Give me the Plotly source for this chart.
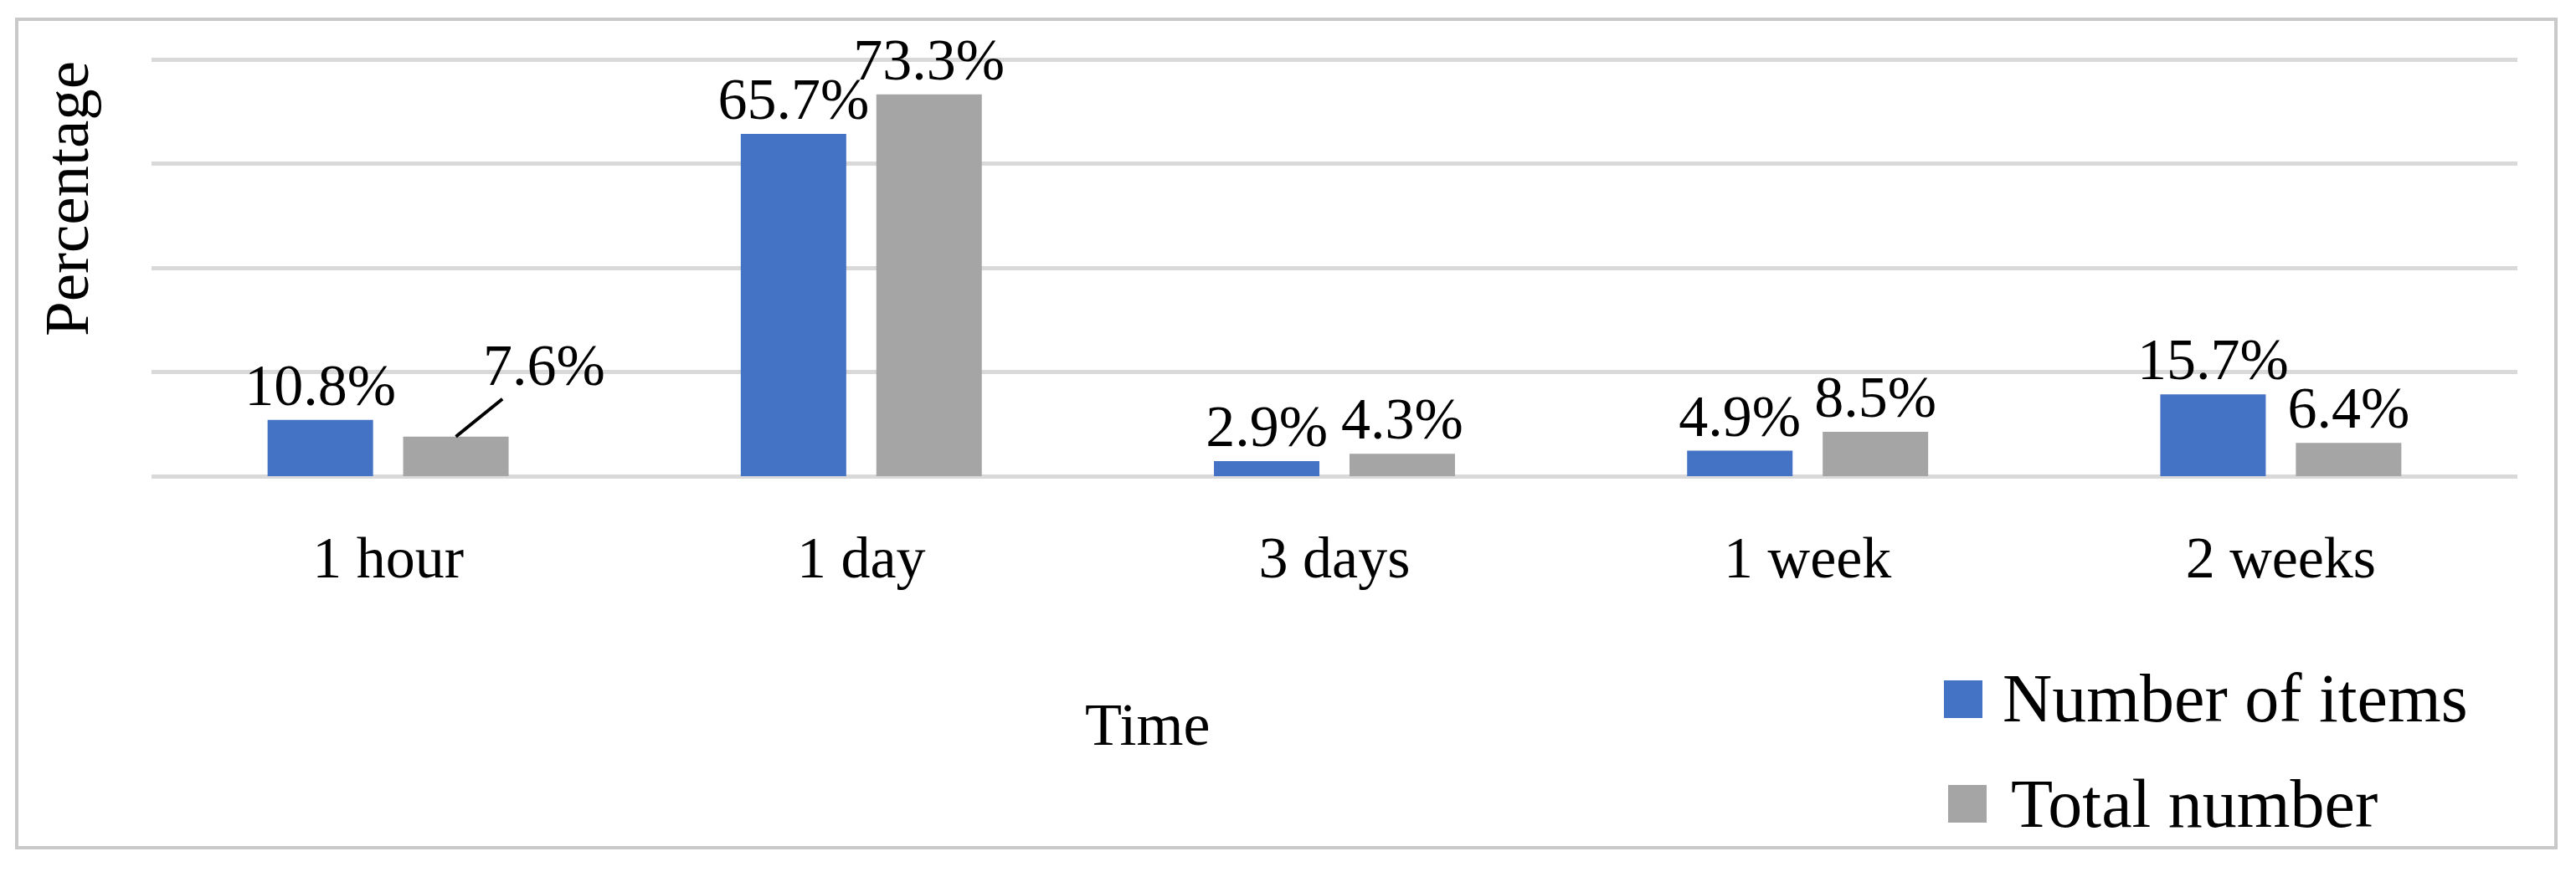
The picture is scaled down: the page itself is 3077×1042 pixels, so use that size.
import plotly.graph_objects as go

# ---- data ----
categories = ["1 hour", "1 day", "3 days", "1 week", "2 weeks"]
series_names = ["Number of items", "Total number"]
number_of_items = [10.8, 65.7, 2.9, 4.9, 15.7]
total_number = [7.6, 73.3, 4.3, 8.5, 6.4]
x_title = "Time"
y_title = "Percentage"

# ---- style ----
BLUE = "#4472C4"
GRAY = "#A5A5A5"
GRID = "#D9D9D9"
BORDER = "#C9C9C9"
FONT = "Liberation Serif, Times New Roman, serif"

W, H = 3077, 1042
L, R, T, B = 181, 70, 58, 473
PW, PH = W - L - R, H - T - B
YMAX = 82.1
BARGAP, BARGROUPGAP = 0.427, 0.222


def px(xp):
    return (xp - L) / PW


def py(yp):
    return (H - B - yp) / PH


def lbl(v):
    return f"{v:.1f}%"


blue_text = [lbl(v) for v in number_of_items]
gray_text = [lbl(v) for v in total_number]
moved = 0  # label of the first gray bar is drawn with a leader line
gray_text[moved] = ""

fig = go.Figure()
fig.add_trace(go.Bar(
    x=categories, y=number_of_items, name=series_names[0],
    marker=dict(color=BLUE, line=dict(width=0)),
    text=blue_text, textposition="outside", constraintext="none",
    textfont=dict(family=FONT, size=70, color="black"),
    cliponaxis=False, showlegend=False,
))
fig.add_trace(go.Bar(
    x=categories, y=total_number, name=series_names[1],
    marker=dict(color=GRAY, line=dict(width=0)),
    text=gray_text, textposition="outside", constraintext="none",
    textfont=dict(family=FONT, size=70, color="black"),
    cliponaxis=False, showlegend=False,
))

# position of the second bar within its category (category units)
slot = (1 - BARGAP) / 2
gray_offset = slot / 2

annotations = [
    dict(x=moved + gray_offset, y=total_number[moved], xref="x", yref="y",
         text=lbl(total_number[moved]), showarrow=True, arrowhead=0,
         arrowwidth=4, arrowcolor="black", standoff=0, startstandoff=0,
         ax=105, ay=-85, font=dict(family=FONT, size=70, color="black")),
    dict(x=px(1370), y=py(866), xref="paper", yref="paper", text=x_title,
         showarrow=False, xanchor="center", yanchor="middle",
         font=dict(family=FONT, size=72, color="black")),
    dict(x=px(79), y=py(238), xref="paper", yref="paper", text=y_title,
         textangle=-90, showarrow=False, xanchor="center", yanchor="middle",
         font=dict(family=FONT, size=75, color="black")),
    dict(x=px(2390), y=py(835), xref="paper", yref="paper", text=series_names[0],
         showarrow=False, xanchor="left", yanchor="middle",
         font=dict(family=FONT, size=82, color="black")),
    dict(x=px(2400), y=py(960), xref="paper", yref="paper", text=series_names[1],
         showarrow=False, xanchor="left", yanchor="middle",
         font=dict(family=FONT, size=82, color="black")),
]

shapes = [
    dict(type="rect", xref="paper", yref="paper",
         x0=px(20), x1=px(3053), y0=py(1013), y1=py(23),
         line=dict(color=BORDER, width=4), fillcolor="rgba(0,0,0,0)", layer="below"),
    dict(type="rect", xref="paper", yref="paper",
         x0=px(2322), x1=px(2368), y0=py(858), y1=py(813),
         line=dict(width=0), fillcolor=BLUE),
    dict(type="rect", xref="paper", yref="paper",
         x0=px(2327), x1=px(2373), y0=py(983), y1=py(938),
         line=dict(width=0), fillcolor=GRAY),
]

fig.update_layout(
    width=W, height=H,
    margin=dict(l=L, r=R, t=T, b=B, pad=0),
    paper_bgcolor="white", plot_bgcolor="white",
    barmode="group", bargap=BARGAP, bargroupgap=BARGROUPGAP,
    showlegend=False,
    annotations=annotations, shapes=shapes,
    font=dict(family=FONT, color="black"),
    xaxis=dict(
        type="category", showgrid=False, zeroline=False, showline=False,
        ticks="", ticklabelstandoff=50,
        tickfont=dict(family=FONT, size=70, color="black"),
    ),
    yaxis=dict(
        range=[0, YMAX], dtick=20, showticklabels=False, ticks="",
        showgrid=True, gridcolor=GRID, gridwidth=5,
        zeroline=True, zerolinecolor=GRID, zerolinewidth=5, showline=False,
    ),
)

fig.write_html("out.html")
